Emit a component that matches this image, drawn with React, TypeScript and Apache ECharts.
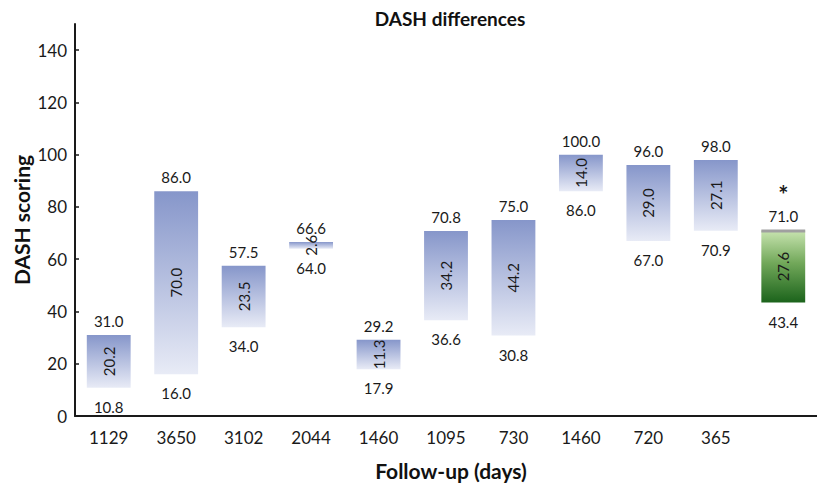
import React, { useEffect, useRef } from 'react';
import * as echarts from 'echarts';

const categories = ['1129', '3650', '3102', '2044', '1460', '1095', '730', '1460', '720', '365', ''];
const highValues = [31.0, 86.0, 57.5, 66.6, 29.2, 70.8, 75.0, 100.0, 96.0, 98.0, 71.0];
const lowValues = [10.8, 16.0, 34.0, 64.0, 17.9, 36.6, 30.8, 86.0, 67.0, 70.9, 43.4];
const diffValues = [20.2, 70.0, 23.5, 2.6, 11.3, 34.2, 44.2, 14.0, 29.0, 27.1, 27.6];
const markers = ['', '', '', '', '', '', '', '', '', '', '*'];
const highlightIndex = 10;
const yTicks = [0, 20, 40, 60, 80, 100, 120, 140];

const FONT = 'Lato, "Open Sans", sans-serif';

export default function App() {
  const ref = useRef<HTMLDivElement>(null);
  useEffect(() => {
    if (!ref.current) return;
    const chart = echarts.init(ref.current, null, { renderer: 'svg' });
    const data = categories.map((_, i) => [i, lowValues[i], highValues[i], diffValues[i]]);
    chart.setOption({
      animation: false,
      backgroundColor: '#ffffff',
      grid: { left: 75, top: 24, bottom: 71, width: 759 },
      xAxis: {
        type: 'category',
        data: categories,
        axisLine: { lineStyle: { color: '#1a1a1a', width: 2 } },
        axisTick: { show: false },
        axisLabel: { color: '#1a1a1a', fontSize: 17, fontFamily: FONT, margin: 13 },
        splitLine: { show: false },
      },
      yAxis: {
        type: 'value',
        min: 0,
        max: 150,
        interval: 10,
        axisLine: { show: true, lineStyle: { color: '#1a1a1a', width: 2 } },
        axisTick: { show: true, inside: true, length: 4, customValues: yTicks, lineStyle: { color: '#1a1a1a', width: 1.5 } },
        axisLabel: { color: '#1a1a1a', fontSize: 17, fontFamily: FONT, margin: 8, customValues: yTicks },
        splitLine: { show: false },
      },
      graphic: [
        {
          type: 'text', x: 450, y: 18,
          style: { text: 'DASH differences', fill: '#111', fontSize: 19, fontWeight: 'bold', fontFamily: FONT, align: 'center', verticalAlign: 'middle' },
        },
        {
          type: 'text', x: 451, y: 470,
          style: { text: 'Follow-up (days)', fill: '#111', fontSize: 21, fontWeight: 'bold', fontFamily: FONT, align: 'center', verticalAlign: 'middle' },
        },
        {
          type: 'text', x: 21, y: 220, rotation: Math.PI / 2,
          style: { text: 'DASH scoring', fill: '#111', fontSize: 21, fontWeight: 'bold', fontFamily: FONT, align: 'center', verticalAlign: 'middle' },
        },
      ],
      series: [
        {
          type: 'custom',
          data,
          encode: { x: 0, y: [1, 2] },
          clip: false,
          renderItem: (params: any, api: any) => {
            const i = api.value(0);
            const lo = api.value(1);
            const hi = api.value(2);
            const diff = api.value(3);
            const top = api.coord([i, hi]);
            const bot = api.coord([i, lo]);
            const bw = api.size([1, 0])[0] * 0.65;
            const cx = top[0];
            const green = i === highlightIndex;
            const fill = new echarts.graphic.LinearGradient(0, 0, 0, 1, green
              ? [{ offset: 0, color: '#c8e4b0' }, { offset: 0.45, color: '#72a85a' }, { offset: 1, color: '#1b631b' }]
              : [{ offset: 0, color: '#8696ca' }, { offset: 1, color: '#e8ebf6' }]);
            const children: any[] = [
              { type: 'rect', shape: { x: cx - bw / 2, y: top[1], width: bw, height: Math.max(bot[1] - top[1], 1) }, style: { fill } },
            ];
            if (green) {
              children.push({ type: 'rect', shape: { x: cx - bw / 2, y: top[1] - 1, width: bw, height: 3 }, style: { fill: '#a0a0a0' } });
            }
            const txt = (text: string, x: number, y: number, extra: any = {}) => ({
              type: 'text', x, y, ...extra,
              style: { text, fill: '#1a1a1a', fontSize: 15, fontFamily: FONT, align: 'center', verticalAlign: 'middle' },
            });
            children.push(txt(hi.toFixed(1), cx, top[1] - 14));
            children.push(txt(lo.toFixed(1), cx, bot[1] + 19));
            children.push(txt(diff.toFixed(1), cx, (top[1] + bot[1]) / 2, { rotation: Math.PI / 2 }));
            if (markers[i]) {
              children.push({
                type: 'text', x: cx, y: top[1] - 36,
                style: { text: markers[i], fill: '#1a1a1a', fontSize: 24, fontWeight: 'bold', fontFamily: FONT, align: 'center', verticalAlign: 'middle' },
              });
            }
            return { type: 'group', children };
          },
        },
      ],
    });
    return () => chart.dispose();
  }, []);
  return <div ref={ref} style={{ width: 817, height: 487, position: 'absolute', left: 0, top: 0 }} />;
}
